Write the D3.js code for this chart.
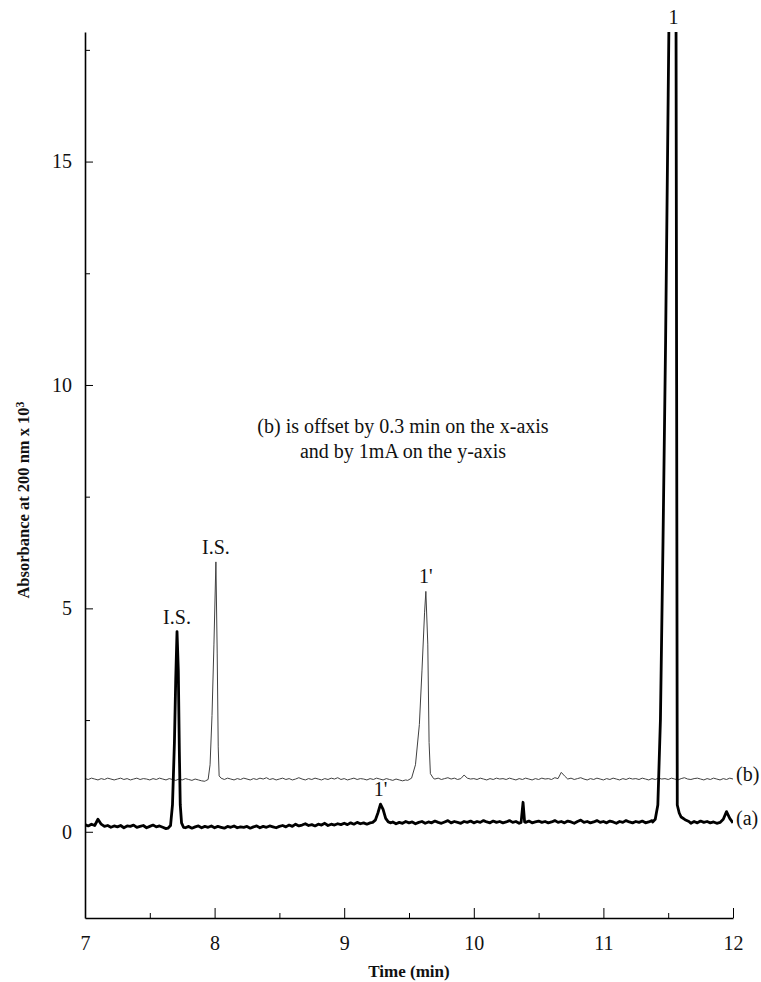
<!DOCTYPE html>
<html>
<head>
<meta charset="utf-8">
<script src="https://cdn.jsdelivr.net/npm/d3@7"></script>
<style>
  body { margin: 0; background: #fff; }
  svg { display: block; }
  text { font-family: "Liberation Serif", "Times New Roman", serif; fill: #111; }
</style>
</head>
<body>
<svg id="chart" width="761" height="982"></svg>
<script>
// Axis ticks
const xTicks = [7, 8, 9, 10, 11, 12];
const xMinorTicks = [7.5, 8.5, 9.5, 10.5, 11.5];
const yTicks = [0, 5, 10, 15];
const yMinorTicks = [2.5, 7.5, 12.5, 17.5];
const xDomain = [7, 12];
const yDomain = [-1.93, 17.9];

// Offset applied to trace (b)
const offsetB = { time: 0.3, abs: 1 };

// Trace (a): detector baseline sampled every 0.025 min from 7.00 min
const startA = 7.0, stepA = 0.025;
const baseA = [
  0.16,0.13,0.17,0.14,0.28,0.17,0.12,0.14,0.10,0.13,
  0.11,0.14,0.09,0.13,0.12,0.15,0.10,0.12,0.14,0.09,
  0.12,0.15,0.11,0.13,0.10,0.07,0.05,0.10,0.10,0.10,
  0.12,0.09,0.12,0.08,0.11,0.13,0.09,0.12,0.10,0.13,
  0.09,0.12,0.10,0.08,0.12,0.10,0.13,0.09,0.11,0.10,
  0.12,0.08,0.11,0.13,0.09,0.12,0.10,0.13,0.11,0.09,
  0.12,0.14,0.11,0.15,0.12,0.17,0.13,0.15,0.18,0.14,
  0.16,0.13,0.17,0.15,0.19,0.14,0.17,0.15,0.18,0.16,
  0.19,0.16,0.20,0.17,0.21,0.18,0.20,0.17,0.20,0.20,
  0.20,0.20,0.20,0.20,0.19,0.22,0.18,0.21,0.19,0.23,
  0.20,0.22,0.18,0.21,0.23,0.19,0.22,0.20,0.24,0.21,
  0.19,0.22,0.25,0.20,0.23,0.21,0.19,0.23,0.21,0.24,
  0.20,0.23,0.21,0.25,0.22,0.20,0.24,0.21,0.23,0.20,
  0.22,0.25,0.21,0.23,0.19,0.22,0.21,0.24,0.20,0.22,
  0.24,0.21,0.23,0.20,0.22,0.25,0.21,0.23,0.20,0.24,
  0.22,0.19,0.23,0.26,0.21,0.23,0.20,0.22,0.25,0.21,
  0.23,0.20,0.24,0.22,0.19,0.23,0.21,0.25,0.22,0.20,
  0.23,0.21,0.24,0.20,0.22,0.25,0.20,0.20,0.20,0.20,
  0.20,0.20,0.20,0.20,0.20,0.20,0.22,0.19,0.23,0.20,
  0.24,0.21,0.23,0.20,0.22,0.19,0.21,0.28,0.45,0.30,
  0.20
];

// Trace (a): peaks, [time (min), absorbance]
const peakA_IS = [[7.64,0.08],[7.66,0.14],[7.675,0.6],[7.69,2.0],[7.70,3.4],[7.71,4.48],[7.72,3.6],[7.728,1.8],[7.735,0.6],[7.745,0.2],[7.76,0.1]];
const peakA_1p = [[9.20,0.20],[9.22,0.21],[9.24,0.26],[9.26,0.42],[9.28,0.62],[9.30,0.50],[9.32,0.30],[9.34,0.22],[9.36,0.20]];
const spikeA = [[10.365,0.21],[10.38,0.66],[10.392,0.22]];
const peakA_1 = [[11.38,0.22],[11.40,0.28],[11.42,0.6],[11.44,2.5],[11.46,6.5],[11.48,11],[11.50,16.5],[11.52,22],[11.54,24],[11.56,19],[11.565,10],[11.57,0.6],[11.585,0.42],[11.60,0.33],[11.63,0.27],[11.66,0.23]];

// Trace (b): raw run (before offset), sampled every 0.025 min from 6.70 min
const startB = 6.7, stepB = 0.025;
const baseB = [
  0.19,0.17,0.20,0.18,0.16,0.19,0.17,0.20,0.18,0.16,
  0.18,0.20,0.17,0.19,0.16,0.18,0.20,0.17,0.19,0.18,
  0.16,0.19,0.17,0.20,0.18,0.16,0.19,0.17,0.15,0.18,
  0.16,0.19,0.17,0.15,0.18,0.16,0.14,0.13,0.15,0.18,
  0.20,0.20,0.19,0.17,0.20,0.18,0.16,0.19,0.17,0.20,
  0.18,0.16,0.19,0.17,0.20,0.18,0.21,0.17,0.19,0.16,
  0.18,0.20,0.17,0.19,0.16,0.18,0.21,0.18,0.16,0.19,
  0.17,0.20,0.18,0.16,0.19,0.17,0.20,0.18,0.21,0.17,
  0.19,0.16,0.18,0.20,0.17,0.19,0.18,0.16,0.19,0.17,
  0.20,0.18,0.16,0.19,0.17,0.15,0.18,0.16,0.14,0.16,
  0.17,0.20,0.20,0.20,0.20,0.20,0.20,0.20,0.18,0.20,
  0.17,0.19,0.21,0.18,0.20,0.17,0.19,0.27,0.20,0.18,
  0.19,0.17,0.20,0.18,0.16,0.19,0.17,0.20,0.18,0.19,
  0.17,0.20,0.18,0.16,0.19,0.17,0.20,0.18,0.16,0.19,
  0.17,0.20,0.18,0.19,0.17,0.21,0.19,0.33,0.25,0.18,
  0.20,0.17,0.19,0.21,0.18,0.16,0.19,0.17,0.20,0.18,
  0.16,0.19,0.17,0.20,0.18,0.16,0.19,0.17,0.20,0.18,
  0.19,0.17,0.20,0.18,0.16,0.19,0.17,0.20,0.18,0.19,
  0.17,0.20,0.18,0.16,0.19,0.21,0.18,0.17,0.19,0.20,
  0.18,0.16,0.19,0.17,0.20,0.18,0.16,0.19,0.17,0.20,
  0.18
];

// Trace (b): peaks in raw run time
const peakB_IS = [[7.63,0.14],[7.65,0.17],[7.665,0.5],[7.68,1.6],[7.695,3.2],[7.71,5.04],[7.72,3.0],[7.728,0.9],[7.735,0.25],[7.75,0.2]];
const peakB_1p = [[9.19,0.15],[9.22,0.20],[9.25,0.5],[9.28,1.4],[9.30,2.6],[9.32,3.9],[9.33,4.38],[9.345,3.2],[9.355,1.0],[9.365,0.3],[9.39,0.19]];

// Peak annotations: trace, label, peak time (raw), peak absorbance (raw)
const annotations = [
  { trace: "a", label: "I.S.", t: 7.71, v: 4.48 },
  { trace: "a", label: "1'",   t: 9.28, v: 0.62 },
  { trace: "b", label: "I.S.", t: 7.71, v: 5.04 },
  { trace: "b", label: "1'",   t: 9.33, v: 4.38 },
  { trace: "a", label: "1",    t: 11.54, v: 24 }
];

const noteLines = ["(b) is offset by 0.3 min on the x-axis", "and by 1mA on the y-axis"];

// Combine the sampled baseline with the finer peak segments
function buildTrace(start, step, base, peaks) {
  const pts = base.map((v, i) => [start + i * step, v]);
  const keep = pts.filter(p => !peaks.some(pk => p[0] >= pk[0][0] - 1e-9 && p[0] <= pk[pk.length - 1][0] + 1e-9));
  peaks.forEach(pk => pk.forEach(p => keep.push(p)));
  return keep.sort((a, b) => a[0] - b[0]);
}

const traceA = buildTrace(startA, stepA, baseA, [peakA_IS, peakA_1p, spikeA, peakA_1]);
const traceB = buildTrace(startB, stepB, baseB, [peakB_IS, peakB_1p])
  .map(p => [p[0] + offsetB.time, p[1] + offsetB.abs]);

const svg = d3.select("#chart");
const plotLeft = 85, plotRight = 733, plotTop = 32, plotBottom = 918;

const x = d3.scaleLinear().domain(xDomain).range([plotLeft, plotRight]);
const y = d3.scaleLinear().domain(yDomain).range([plotBottom, plotTop]);

svg.append("defs").append("clipPath").attr("id", "plotClip")
  .append("rect").attr("x", plotLeft).attr("y", plotTop)
  .attr("width", plotRight - plotLeft).attr("height", plotBottom - plotTop);

const line = d3.line().x(d => x(d[0])).y(d => y(d[1]));

const plot = svg.append("g").attr("clip-path", "url(#plotClip)");
plot.append("path").datum(traceB)
  .attr("d", line).attr("fill", "none")
  .attr("stroke", "#404040").attr("stroke-width", 1).attr("stroke-linejoin", "round");
plot.append("path").datum(traceA)
  .attr("d", line).attr("fill", "none")
  .attr("stroke", "#000").attr("stroke-width", 2.8).attr("stroke-linejoin", "round");

// X axis
svg.append("g").attr("transform", `translate(0,${plotBottom})`)
  .call(d3.axisBottom(x).tickValues(xTicks).tickFormat(d3.format("d"))
    .tickSize(-10).tickSizeOuter(0).tickPadding(18));
svg.append("g").attr("transform", `translate(0,${plotBottom})`)
  .call(d3.axisBottom(x).tickValues(xMinorTicks).tickFormat("").tickSize(-5).tickSizeOuter(0))
  .select(".domain").remove();

// Y axis
svg.append("g").attr("transform", `translate(${plotLeft},0)`)
  .call(d3.axisLeft(y).tickValues(yTicks).tickFormat(d3.format("d"))
    .tickSize(-8).tickSizeOuter(0).tickPadding(13));
svg.append("g").attr("transform", `translate(${plotLeft},0)`)
  .call(d3.axisLeft(y).tickValues(yMinorTicks).tickFormat("").tickSize(-5).tickSizeOuter(0))
  .select(".domain").remove();

svg.selectAll(".domain").attr("stroke", "#000").attr("stroke-width", 1.6);
svg.selectAll(".tick line").attr("stroke", "#000").attr("stroke-width", 1);
svg.selectAll(".tick text")
  .style("font-family", '"Liberation Serif", "Times New Roman", serif')
  .style("font-size", "20px").attr("fill", "#111");

// Axis titles
svg.append("text")
  .attr("x", (plotLeft + plotRight) / 2).attr("y", 977)
  .attr("text-anchor", "middle")
  .style("font-size", "17px").style("font-weight", "bold")
  .text("Time (min)");

const yTitle = svg.append("text")
  .attr("transform", "translate(29,500) rotate(-90)")
  .attr("text-anchor", "middle")
  .style("font-size", "16.5px").style("font-weight", "bold");
yTitle.append("tspan").text("Absorbance at 200 nm x 10");
yTitle.append("tspan").attr("dy", "-0.45em").style("font-size", "12px").text("3");

// Peak labels
annotations.forEach(a => {
  const t = a.trace === "b" ? a.t + offsetB.time : a.t;
  const v = a.trace === "b" ? a.v + offsetB.abs : a.v;
  const py = Math.max(y(v), plotTop);
  svg.append("text")
    .attr("x", x(t))
    .attr("y", py - 8)
    .attr("text-anchor", "middle")
    .style("font-size", "20px")
    .text(a.label);
});

// Trace end labels
svg.append("text").attr("x", plotRight + 3).attr("y", y(traceA[traceA.length - 1][1]) + 2)
  .style("font-size", "20px").text("(a)");
svg.append("text").attr("x", plotRight + 3).attr("y", y(traceB[traceB.length - 1][1]) + 2)
  .style("font-size", "20px").text("(b)");

// Offset note
svg.append("text")
  .attr("x", 403).attr("y", 433)
  .attr("text-anchor", "middle")
  .style("font-size", "20px")
  .selectAll("tspan").data(noteLines).join("tspan")
  .attr("x", 403).attr("dy", (d, i) => i === 0 ? 0 : 25)
  .text(d => d);
</script>
</body>
</html>
